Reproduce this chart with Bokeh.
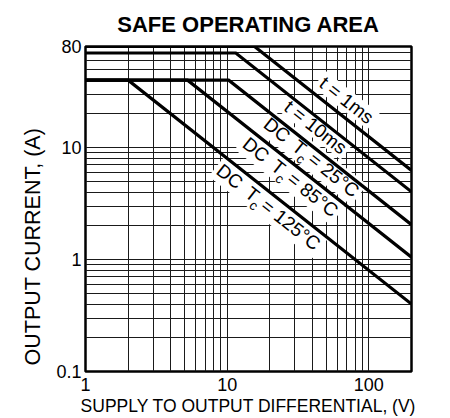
import math
from bokeh.plotting import figure
from bokeh.models import FixedTicker, CustomJSTickFormatter, ColumnDataSource, Range1d, Title
from bokeh.core.properties import value
from bokeh.embed import file_html
from bokeh.resources import INLINE

# ---- data ----
volts_1ms = [1, 15.6, 200]
amps_1ms = [80, 80, 6.25]
volts_10ms = [1, 11.5, 200]
amps_10ms = [70, 70, 4.03]
volts_dc25 = [1, 10.25, 200]
amps_dc25 = [40, 40, 2.05]
volts_dc85 = [1, 5.25, 200]
amps_dc85 = [40, 40, 1.05]
volts_dc125 = [1, 2.0, 200]
amps_dc125 = [40, 40, 0.4]

x_tick_values = [1, 10, 100]
y_tick_values = [0.1, 1, 10, 80]
x_grid_values = [2, 3, 4, 5, 6, 7, 8, 9, 10, 20, 30, 40, 50, 60, 70, 80, 90, 100]
y_grid_values = [0.2, 0.3, 0.4, 0.5, 0.6, 0.7, 0.8, 0.9, 1, 2, 3, 4, 5, 6, 7, 8, 9,
                 10, 20, 30, 40, 50, 60, 70]

label_head = ["t = 1ms", "t = 10ms", "DC", "DC", "DC"]
label_mid = ["", "", "T", "T", "T"]
label_sub = ["", "", "c", "c", "c"]
label_tail = ["", "", "= 25°C", "= 85°C", "= 125°C"]
label_v = [69.7, 42.1, 39.4, 28.0, 19.6]
label_i = [26.5, 15.2, 8.2, 5.46, 2.94]

FONT = "Liberation Sans"
X_RANGE = (1, 200)
Y_RANGE = (0.1, 80)
FW, FH = 326, 325

p = figure(x_axis_type="log", y_axis_type="log",
           x_range=Range1d(*X_RANGE), y_range=Range1d(*Y_RANGE),
           frame_width=FW, frame_height=FH,
           min_border_left=85, min_border_right=36, min_border_top=44, min_border_bottom=49,
           output_backend="svg", toolbar_location=None,
           background_fill_color="white", border_fill_color="white")

p.title.text = "SAFE OPERATING AREA"
p.title.align = "center"
p.title.text_font = FONT
p.title.text_font_size = "22px"
p.title.text_font_style = "bold"
p.title.text_color = "black"
p.title.standoff = 19

# grid
p.xgrid.ticker = FixedTicker(ticks=x_grid_values)
p.ygrid.ticker = FixedTicker(ticks=y_grid_values)
for g in (p.xgrid, p.ygrid):
    g.grid_line_color = "#1a1a1a"
    g.grid_line_width = 1
    g.grid_line_alpha = 1

fmt = CustomJSTickFormatter(code="return String(tick);")
p.xaxis.ticker = FixedTicker(ticks=x_tick_values)
p.yaxis.ticker = FixedTicker(ticks=y_tick_values)
for ax in (p.xaxis, p.yaxis):
    ax.formatter = fmt
    ax.major_tick_line_color = None
    ax.minor_tick_line_color = None
    ax.major_tick_out = 0
    ax.major_tick_in = 0
    ax.axis_line_color = None
    ax.major_label_text_font = FONT
    ax.major_label_text_font_size = "18px"
    ax.major_label_text_color = "black"
    ax.axis_label_text_font = FONT
    ax.axis_label_text_font_style = "normal"
    ax.axis_label_text_color = "black"

p.xaxis.axis_label = "SUPPLY TO OUTPUT DIFFERENTIAL, (V)"
p.xaxis.axis_label_text_font_size = "17.5px"
p.xaxis.major_label_standoff = 6
p.xaxis.axis_label_standoff = 2
p.yaxis.major_label_standoff = 4

# y-axis title as a side title, starting near the bottom of the frame as in the reference
p.add_layout(Title(text="OUTPUT CURRENT, (A)", align="left", offset=6,
                   text_font=FONT, text_font_size="21.5px", text_font_style="normal",
                   text_color="black", standoff=18), "left")

p.outline_line_color = "black"
p.outline_line_width = 2.5
p.outline_line_alpha = 1

# ---- curve labels (drawn before the curves, which lie over their white boxes) ----
px_per_dec_x = FW / (math.log10(X_RANGE[1]) - math.log10(X_RANGE[0]))
px_per_dec_y = FH / (math.log10(Y_RANGE[1]) - math.log10(Y_RANGE[0]))
theta = math.atan2(px_per_dec_y, px_per_dec_x)
ct, st = math.cos(theta), math.sin(theta)

CW = {'D': 722, 'C': 722, ' ': 278, 'T': 611, 'c': 500, '=': 584, '0': 556, '1': 556,
      '2': 556, '5': 556, '8': 556, '°': 400, 't': 278, 'm': 833, 's': 500}
def tw(s, size):
    return sum(CW.get(ch, 556) for ch in s) * size / 1000.0

MAIN = 19
SUB = 13.5
rows = dict(x=[], y=[], text=[], fs=[], xo=[], yo=[])
box = dict(x=[], y=[], w=[], h=[])
for hd, md, sb, tl, v, i in zip(label_head, label_mid, label_sub, label_tail, label_v, label_i):
    pieces = [(hd, MAIN, 0.0, 0.0)]          # (text, size, drop, gap before)
    if md:
        pieces.append((md, MAIN, 0.0, 9.0))
        pieces.append((sb, SUB, 8.0, -1.0))
        pieces.append((tl, MAIN, 0.0, 3.0))
    widths = [tw(t, fs) + gap for t, fs, _, gap in pieces]
    total = sum(widths)
    s = -total / 2.0
    for (t, fs, drop, gap), w in zip(pieces, widths):
        c = s + gap + (w - gap) / 2.0
        s += w
        rows["x"].append(v)
        rows["y"].append(i)
        rows["text"].append(t)
        rows["fs"].append(f"{fs}px")
        rows["xo"].append(c * ct - drop * st)
        rows["yo"].append(c * st + drop * ct)
    box["x"].append(v)
    box["y"].append(i)
    box["w"].append(total + 6)
    box["h"].append(MAIN * 1.05 + (6 if md else 0))

p.rect(x="x", y="y", width="w", height="h", source=ColumnDataSource(box),
       width_units="screen", height_units="screen", angle=-theta,
       fill_color="white", line_color=None)

src = ColumnDataSource(rows)
p.text(x="x", y="y", text="text", source=src, angle=-theta,
       x_offset="xo", y_offset="yo", text_font=value(FONT), text_font_size="fs",
       text_align="center", text_baseline="middle", text_color="black")

# ---- curves ----
for vv, ii in [(volts_1ms, amps_1ms), (volts_10ms, amps_10ms), (volts_dc25, amps_dc25),
               (volts_dc85, amps_dc85), (volts_dc125, amps_dc125)]:
    p.line(vv, ii, line_width=3.2, line_color="black", line_join="miter")

open("out.html", "w").write(file_html(p, INLINE))
